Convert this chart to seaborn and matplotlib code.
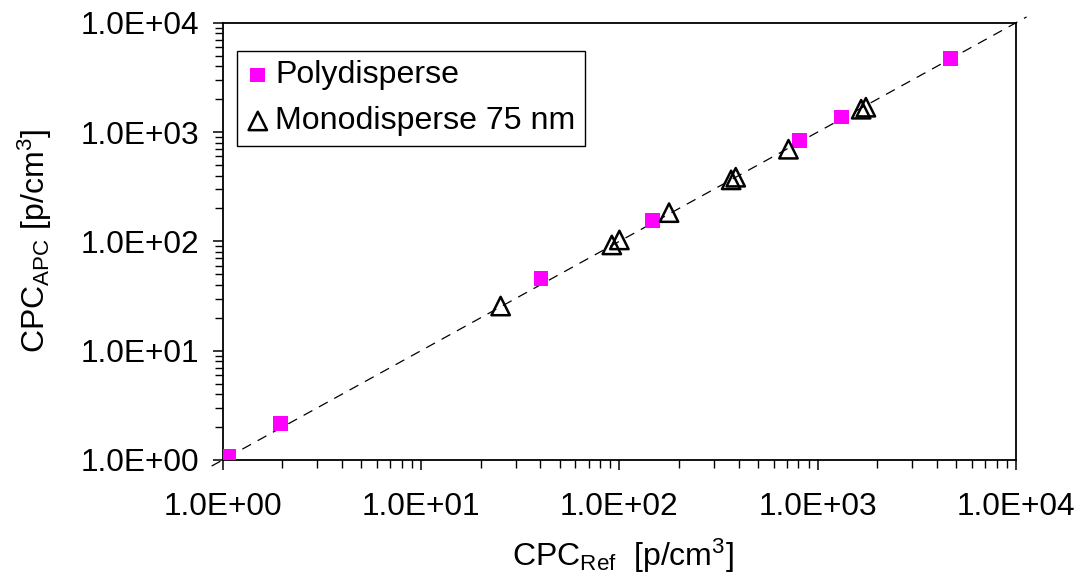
import numpy as np
import pandas as pd
import matplotlib
matplotlib.use('Agg')
import matplotlib.pyplot as plt
import seaborn as sns
from matplotlib.ticker import LogLocator, FuncFormatter, NullFormatter

# polydisperse aerosol: reference CPC vs APC CPC [p/cm3]
poly_ref = [1.07, 1.96, 40.3, 147, 809, 1317, 4690]
poly_apc = [1.08, 2.15, 45.5, 156, 840, 1375, 4700]

# monodisperse 75 nm
mono_ref = [25.2, 91.6, 100, 178, 366, 386, 712, 1656, 1749]
mono_apc = [25.6, 92.7, 103, 183, 365, 386, 696, 1617, 1687]

# 1:1 line end points
line_ends = [0.88, 11300]

poly = pd.DataFrame({'ref': poly_ref, 'apc': poly_apc})
mono = pd.DataFrame({'ref': mono_ref, 'apc': mono_apc})

sns.set_style('ticks')
plt.rcParams['font.family'] = ['Liberation Sans', 'DejaVu Sans']
plt.rcParams['mathtext.default'] = 'regular'
plt.rcParams['text.color'] = 'black'
plt.rcParams['axes.labelcolor'] = 'black'

fig = plt.figure(figsize=(10.83, 5.78), dpi=100)
ax = fig.add_axes([0.2056, 0.2042, 0.7326, 0.7565])

ax.plot(line_ends, line_ends, color='black', lw=0.9, linestyle=(0, (8, 6)),
        clip_on=False, zorder=1)
sns.scatterplot(data=poly, x='ref', y='apc', ax=ax, marker='s', s=112,
                color='#FF00FF', edgecolor='none', linewidth=0,
                label='Polydisperse', zorder=3)
sns.scatterplot(data=mono, x='ref', y='apc', ax=ax, marker='^', s=175,
                facecolor='none', edgecolor='black', linewidth=1.8,
                label='Monodisperse 75 nm', zorder=4)

ax.set_xscale('log')
ax.set_yscale('log')
ax.set_xlim(1, 1e4)
ax.set_ylim(1, 1e4)

fmt = FuncFormatter(lambda v, p: '%.1fE%+03d' % (1.0, int(round(np.log10(v)))))
for axis in (ax.xaxis, ax.yaxis):
    axis.set_major_locator(LogLocator(base=10, numticks=10))
    axis.set_minor_locator(LogLocator(base=10, subs=np.arange(2, 10), numticks=20))
    axis.set_major_formatter(fmt)
    axis.set_minor_formatter(NullFormatter())

ax.tick_params(axis='both', which='major', direction='out', length=7, width=1.1,
               labelsize=22.8, color='black', labelcolor='black')
ax.tick_params(axis='both', which='minor', direction='out', length=6, width=1.0,
               color='black')
ax.tick_params(axis='x', which='major', pad=16)
ax.tick_params(axis='y', which='major', pad=10)

for sp in ax.spines.values():
    sp.set_visible(True)
    sp.set_color('black')
    sp.set_linewidth(1.3)

ax.set_xlabel(r'CPC$_{Ref}$  [p/cm$^{3}$]', fontsize=23, color='black')
ax.set_ylabel(r'CPC$_{APC}$ [p/cm$^{3}$]', fontsize=23, color='black')
ax.xaxis.set_label_coords(0.505, -0.175)
ax.yaxis.set_label_coords(-0.212, 0.5)

leg = ax.legend(loc='upper left', bbox_to_anchor=(0.018, 0.936), borderaxespad=0,
                fontsize=23.1, frameon=True, fancybox=False, edgecolor='black',
                framealpha=1, borderpad=0.3, handlelength=0.7,
                handletextpad=0.2, labelspacing=0.5, scatterpoints=1,
                labelcolor='black')
leg.get_frame().set_linewidth(1.0)

fig.savefig('out.png', dpi=100)
